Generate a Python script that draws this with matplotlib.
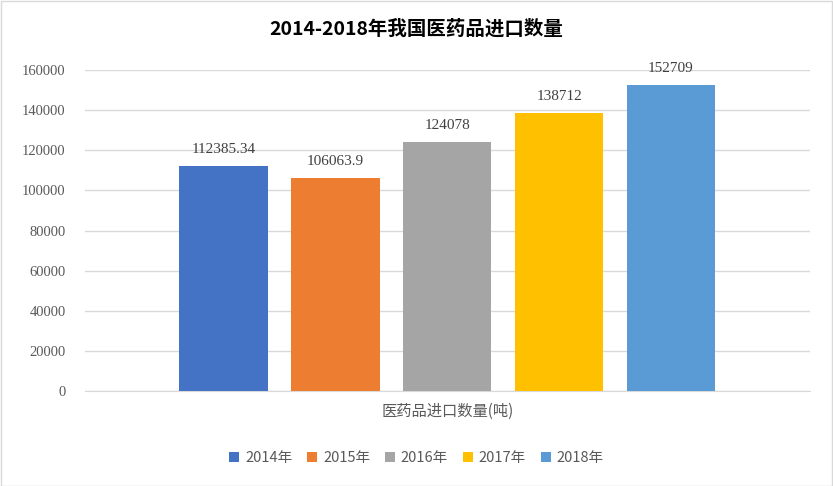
import matplotlib.pyplot as plt
from matplotlib.patches import Rectangle

years = ["2014年", "2015年", "2016年", "2017年", "2018年"]
values = [112385.34, 106063.9, 124078, 138712, 152709]
labels = ["112385.34", "106063.9", "124078", "138712", "152709"]
colors = ["#4472C4", "#ED7D31", "#A5A5A5", "#FFC000", "#5B9BD5"]
yticks = [0, 20000, 40000, 60000, 80000, 100000, 120000, 140000, 160000]

plt.rcParams["font.family"] = ["Noto Sans CJK SC", "DejaVu Sans"]

fig = plt.figure(figsize=(8.33, 4.86), dpi=100)
fig.patches.append(Rectangle((0.001, 0.001), 0.998, 0.997, transform=fig.transFigure,
                             fill=False, edgecolor="#D9D9D9", linewidth=1))
ax = fig.add_axes([0.102, 0.195, 0.870, 0.661])

positions = [-2, -1, 0, 1, 2]
for x, v, c, lab, yr in zip(positions, values, colors, labels, years):
    ax.bar(x, v, width=0.79, color=c, label=yr, zorder=3)
    ax.text(x, v + 5000, lab, ha="center", va="bottom", fontsize=11,
            color="#404040", family="Liberation Serif")

ax.set_xlim(-3.24, 3.24)
ax.set_ylim(0, 160000)
ax.set_yticks(yticks)
ax.set_yticklabels([str(t) for t in yticks], fontsize=10.5, color="#595959",
                   family="Liberation Serif")
ax.grid(axis="y", color="#D9D9D9", linewidth=1, zorder=0)
ax.set_xticks([])
ax.tick_params(axis="y", length=0, pad=14)
for s in ["top", "left", "right"]:
    ax.spines[s].set_visible(False)
ax.spines["bottom"].set_color("#D9D9D9")
ax.set_xlabel("医药品进口数量(吨)", fontsize=11, color="#595959", labelpad=8)

fig.text(0.5, 0.94, "2014-2018年我国医药品进口数量", ha="center", va="center",
         fontsize=14, fontweight="bold", color="#000000")

fig.legend(loc="center", bbox_to_anchor=(0.5, 0.058), ncol=5, frameon=False,
           fontsize=10.5, handlelength=0.7, handleheight=0.7, columnspacing=1.0,
           handletextpad=0.4, labelcolor="#595959")

fig.savefig("out.png", dpi=100)
